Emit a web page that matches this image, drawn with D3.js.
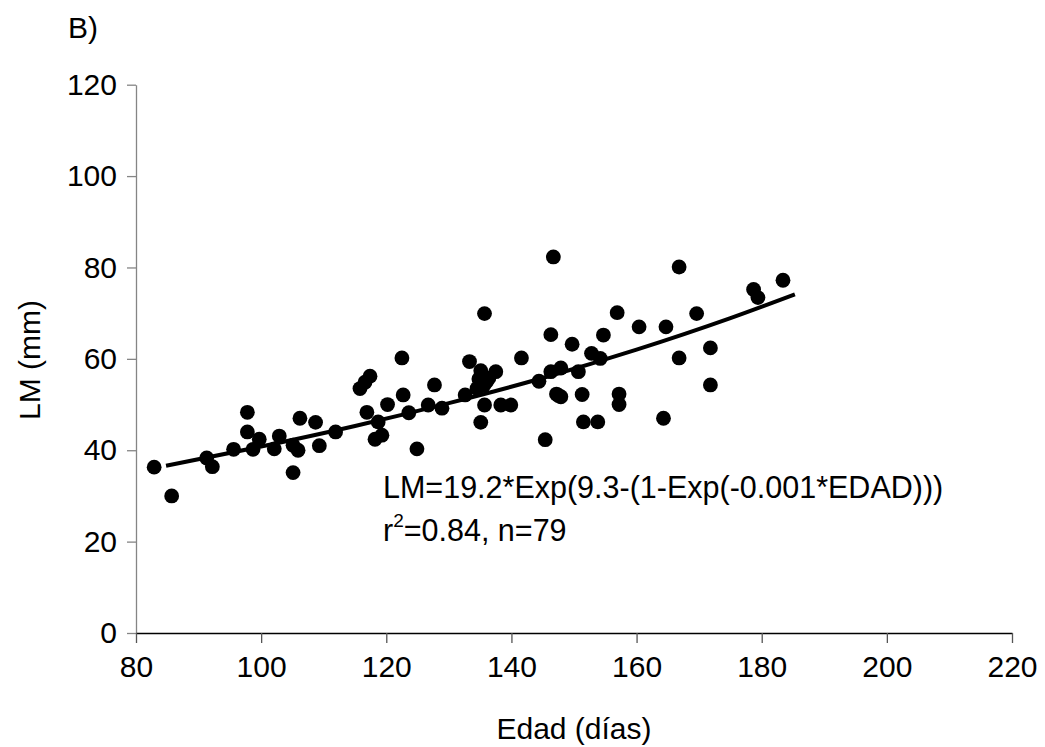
<!DOCTYPE html>
<html lang="es">
<head>
<meta charset="utf-8">
<title>LM vs Edad</title>
<style>
  body { margin: 0; background: #fff; }
  text { font-family: "Liberation Sans", Arial, sans-serif; fill: #000; }
</style>
</head>
<body>
<div id="chart"></div>
<script src="https://d3js.org/d3.v7.min.js"></script>
<script>
  // edad (dias) of each fish
  var edad = [82.9, 85.7, 91.3, 92.2, 95.6, 97.8, 97.8, 99.7, 98.7, 102.1,
              102.9, 105.1, 105.1, 105.9, 106.2, 108.7, 109.3, 111.9, 115.8, 116.6,
              117.4, 116.9, 118.7, 118.2, 119.3, 120.2, 122.5, 122.7, 123.6, 124.9,
              126.7, 127.7, 128.9, 132.6, 133.3, 135.1, 134.5, 136.0, 135.6, 137.5,
              135.7, 135.7, 135.1, 138.3, 139.9, 141.6, 144.4, 146.3, 145.4, 146.3,
              146.7, 147.9, 147.2, 147.9, 149.7, 150.7, 151.3, 151.5, 153.8, 152.8,
              154.2, 154.7, 156.9, 157.2, 157.2, 160.4, 164.3, 164.7, 166.8, 166.8,
              169.6, 171.8, 171.8, 178.7, 179.4, 183.4, 136.4, 134.8, 147.5];
  // LM (mm) of each fish
  var lm = [36.3, 30.0, 38.3, 36.4, 40.2, 48.3, 44.0, 42.4, 40.2, 40.3,
            43.1, 35.1, 41.1, 40.0, 47.0, 46.1, 41.0, 44.0, 53.5, 54.9,
            56.2, 48.3, 46.2, 42.4, 43.3, 50.0, 60.2, 52.1, 48.2, 40.3,
            49.9, 54.3, 49.2, 52.1, 59.4, 57.4, 53.5, 55.0, 54.2, 57.2,
            69.9, 49.9, 46.1, 49.9, 49.9, 60.2, 55.1, 65.3, 42.3, 57.2,
            82.3, 58.0, 52.3, 51.7, 63.2, 57.2, 52.2, 46.2, 46.2, 61.2,
            60.1, 65.2, 70.1, 52.3, 50.0, 67.0, 47.0, 67.0, 80.1, 60.2,
            69.9, 62.4, 54.3, 75.2, 73.4, 77.2, 55.8, 55.6, 52.0];

  // fitted curve
  var fitEdad = [84.8, 100, 115, 130, 145, 160, 175, 185.3];
  var fitLm = [36.6, 40.8, 45.3, 50.3, 55.8, 62.0, 68.9, 74.1];

  var xTicks = [80, 100, 120, 140, 160, 180, 200, 220];
  var yTicks = [0, 20, 40, 60, 80, 100, 120];

  var width = 1045;
  var height = 747;

  var svg = d3.select('#chart')
    .append('svg')
    .attr('width', width)
    .attr('height', height);

  var x = d3.scaleLinear().domain([80, 220]).range([136, 1012]);
  var y = d3.scaleLinear().domain([0, 120]).range([633, 84.7]);

  // y axis (grey)
  var yAxis = svg.append('g')
    .attr('transform', 'translate(' + x(80) + ',0)')
    .call(d3.axisLeft(y).tickValues(yTicks).tickSize(9).tickSizeOuter(0).tickPadding(10));
  yAxis.selectAll('path, line').attr('stroke', '#858585').attr('stroke-width', 1.3);
  yAxis.selectAll('text')
    .style('font-size', '30px')
    .style('font-family', '"Liberation Sans", Arial, sans-serif')
    .attr('fill', '#000');

  // x axis
  var xAxis = svg.append('g')
    .attr('transform', 'translate(0,' + y(0) + ')')
    .call(d3.axisBottom(x).tickValues(xTicks).tickSize(10).tickSizeOuter(0).tickPadding(13));
  xAxis.select('path').attr('stroke', '#000').attr('stroke-width', 1.3);
  xAxis.selectAll('line').attr('stroke', '#555').attr('stroke-width', 1.3);
  xAxis.selectAll('text')
    .style('font-size', '30px')
    .style('font-family', '"Liberation Sans", Arial, sans-serif')
    .attr('fill', '#000');

  // points
  svg.append('g')
    .selectAll('circle')
    .data(edad)
    .enter()
    .append('circle')
    .attr('cx', function(d) { return x(d); })
    .attr('cy', function(d, i) { return y(lm[i]); })
    .attr('r', 7.4)
    .attr('fill', '#000');

  // fitted line
  var line = d3.line()
    .x(function(d) { return x(d); })
    .y(function(d, i) { return y(fitLm[i]); })
    .curve(d3.curveMonotoneX);

  svg.append('path')
    .datum(fitEdad)
    .attr('d', line)
    .attr('fill', 'none')
    .attr('stroke', '#000')
    .attr('stroke-width', 4);

  // equation
  svg.append('text')
    .attr('x', 383)
    .attr('y', 498)
    .style('font-size', '30.5px')
    .text('LM=19.2*Exp(9.3-(1-Exp(-0.001*EDAD)))');

  var r2 = svg.append('text')
    .attr('x', 383)
    .attr('y', 541)
    .style('font-size', '30.5px');
  r2.append('tspan').text('r');
  r2.append('tspan').attr('dy', -14).style('font-size', '19px').text('2');
  r2.append('tspan').attr('dy', 14).text('=0.84, n=79');

  // titles
  svg.append('text')
    .attr('x', 68)
    .attr('y', 38)
    .style('font-size', '30px')
    .text('B)');

  svg.append('text')
    .attr('transform', 'translate(40,360) rotate(-90)')
    .attr('text-anchor', 'middle')
    .style('font-size', '30px')
    .text('LM (mm)');

  svg.append('text')
    .attr('x', 574)
    .attr('y', 739)
    .attr('text-anchor', 'middle')
    .style('font-size', '30px')
    .text('Edad (días)');
</script>
</body>
</html>
